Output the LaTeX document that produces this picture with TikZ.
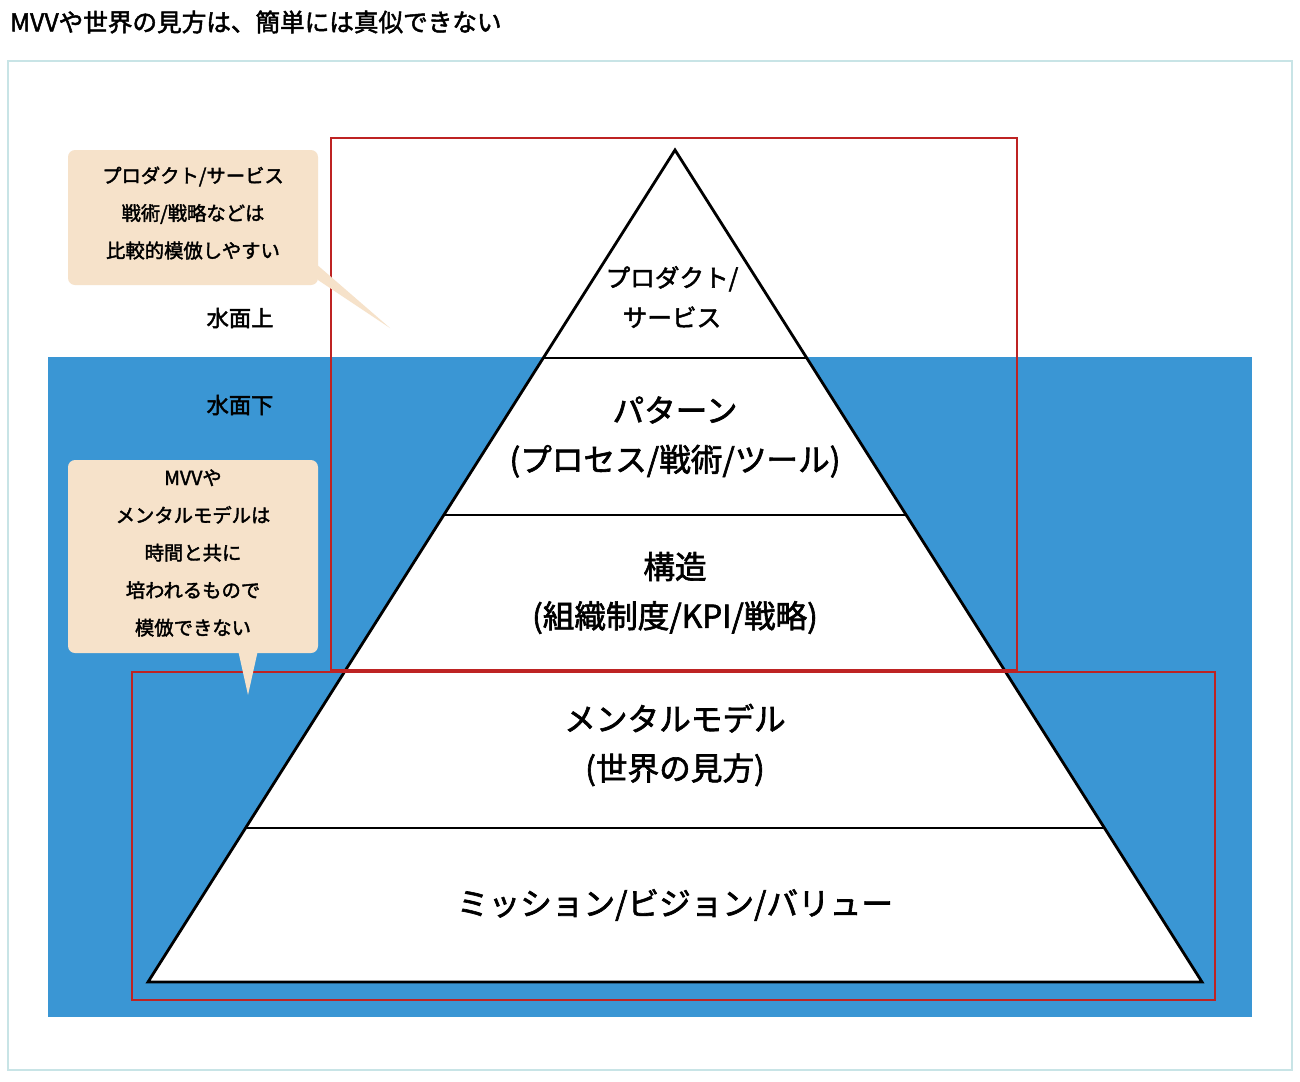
\documentclass[tikz,border=0pt]{standalone}
\usepackage{fontspec}
\setmainfont{Noto Sans CJK JP}[AutoFakeBold=2]
\usetikzlibrary{positioning}
\definecolor{seacolor}{RGB}{58,150,212}
\definecolor{framecolor}{RGB}{200,228,230}
\definecolor{boxcolor}{RGB}{190,35,35}
\definecolor{notecolor}{RGB}{246,226,202}

\begin{document}
\begin{tikzpicture}[x=0.03cm, y=-0.03cm, line join=miter]
\tikzset{
  level/.style={align=center, font=\bfseries\fontsize{27}{42}\selectfont},
  small/.style={align=center, font=\bfseries\fontsize{21}{34}\selectfont},
  note/.style={align=center, font=\bfseries\fontsize{16.5}{32}\selectfont},
  redbox/.style={draw=boxcolor, line width=2.2pt},
  layer/.style={line width=2.4pt},
}
\useasboundingbox (0,0) rectangle (1300,1081);
\fill[white] (0,0) rectangle (1300,1081);

% title and frame
\node[anchor=west, font=\bfseries\fontsize{21}{24}\selectfont] (title) at (6,22) {MVVや世界の見方は、簡単には真似できない};
\draw[framecolor, line width=2pt] (8,61) rectangle (1292,1070);
\fill[seacolor] (48,357) rectangle (1252,1017);

% pyramid
\coordinate (apex) at (675,150);
\coordinate (bl) at (148,982);
\coordinate (br) at (1202,982);
\fill[white] (apex) -- (br) -- (bl) -- cycle;
\draw[layer] (543,358) -- (807,358);
\draw[layer] (444,515) -- (906,515);
\draw[layer] (346,670) -- (1004,670);
\draw[layer] (246,828) -- (1104,828);
\draw[layer] (apex) -- (br) -- (bl) -- cycle;

\node[small] (top) at (672,297) {プロダクト/\\サービス};
\node[level] (pattern) at (675,437) {パターン\\(プロセス/戦術/ツール)};
\node[level] (struct) at (675,593) {構造\\(組織制度/KPI/戦略)};
\node[level] (mental) at (675,745) {メンタルモデル\\(世界の見方)};
\node[level] (mvv) at (675,905) {ミッション/ビジョン/バリュー};

% frames
\draw[redbox] (331,138) rectangle (1017,670);
\draw[redbox] (132,672) rectangle (1215,1000);

% notes
\fill[notecolor, rounded corners=6pt] (68,150) rectangle (318,285);
\fill[notecolor] (300,250) -- (390,328) -- (318,280) -- cycle;
\node[note] (upper) at (193,213) {プロダクト/サービス\\戦術/戦略などは\\比較的模倣しやすい};
\fill[notecolor, rounded corners=6pt] (68,460) rectangle (318,653);
\fill[notecolor] (238,650) -- (248,695) -- (258,650) -- cycle;
\node[note] (lower) at (193,553) {MVVや\\メンタルモデルは\\時間と共に\\培われるもので\\模倣できない};

\node[small, font=\bfseries\fontsize{19}{24}\selectfont] (above) at (240,318) {水面上};
\node[small, font=\bfseries\fontsize{19}{24}\selectfont] (below) at (240,405) {水面下};
\end{tikzpicture}
\end{document}
